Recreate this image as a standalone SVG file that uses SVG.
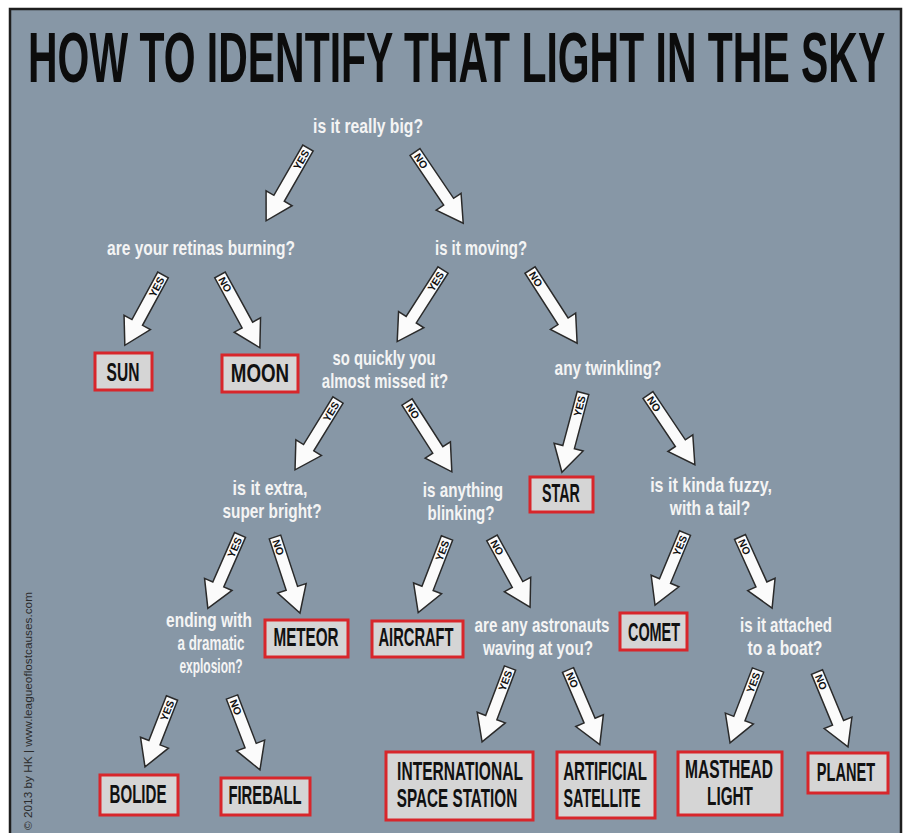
<svg xmlns="http://www.w3.org/2000/svg" width="908" height="833" viewBox="0 0 908 833">
<style>
.q{font-family:"Liberation Sans",Arial,sans-serif;font-weight:bold;font-size:20px;fill:#f4f4f4;text-anchor:middle}
.bx{fill:#d5d5d5;stroke:#d8262b;stroke-width:3}
.bt{font-family:"Liberation Sans",Arial,sans-serif;font-weight:bold;font-size:25px;fill:#111;text-anchor:middle}
.ar{fill:#fbfbfb;stroke:#2a2a2a;stroke-width:1.5;stroke-linejoin:miter}
.yn{font-family:"Liberation Sans",Arial,sans-serif;font-weight:bold;font-size:10.5px;fill:#111}
</style>
<rect x="0" y="0" width="908" height="833" fill="#ffffff"/>
<rect x="10" y="9" width="891" height="840" fill="#8797a6" stroke="#1e1e1e" stroke-width="2.5"/>
<text transform="translate(28,82) scale(0.58,1)" x="0" y="0" font-family="'Liberation Sans',Arial,sans-serif" font-weight="bold" font-size="70" fill="#0c0c0c" textLength="1478" lengthAdjust="spacingAndGlyphs">HOW TO IDENTIFY THAT LIGHT IN THE SKY</text>
<text transform="translate(28,830) rotate(-90)" x="0" y="4" font-family="'Liberation Sans',Arial,sans-serif" font-size="11" fill="#2b2b2b" textLength="238" lengthAdjust="spacingAndGlyphs">© 2013 by HK | www.leagueoflostcauses.com</text>

<g id="connectors">
<g transform="translate(308,148) rotate(119.9)"><path class="ar" d="M0,-6 L58,-6 L58,-15 L84,0 L58,15 L58,6 L0,6 Z"/><text class="yn" transform="rotate(180)" x="-3" y="3.8" text-anchor="end">YES</text></g>
<g transform="translate(415,152) rotate(55.9)"><path class="ar" d="M0,-6 L60,-6 L60,-15 L86,0 L60,15 L60,6 L0,6 Z"/><text class="yn" x="3" y="3.8">NO</text></g>
<g transform="translate(163,275) rotate(118.5)"><path class="ar" d="M0,-6 L54,-6 L54,-15 L80,0 L54,15 L54,6 L0,6 Z"/><text class="yn" transform="rotate(180)" x="-3" y="3.8" text-anchor="end">YES</text></g>
<g transform="translate(220,275) rotate(61.3)"><path class="ar" d="M0,-6 L57,-6 L57,-15 L83,0 L57,15 L57,6 L0,6 Z"/><text class="yn" x="3" y="3.8">NO</text></g>
<g transform="translate(443,270) rotate(122.6)"><path class="ar" d="M0,-6 L59,-6 L59,-15 L85,0 L59,15 L59,6 L0,6 Z"/><text class="yn" transform="rotate(180)" x="-3" y="3.8" text-anchor="end">YES</text></g>
<g transform="translate(530,270) rotate(57.2)"><path class="ar" d="M0,-6 L61,-6 L61,-15 L87,0 L61,15 L61,6 L0,6 Z"/><text class="yn" x="3" y="3.8">NO</text></g>
<g transform="translate(338,400) rotate(121.6)"><path class="ar" d="M0,-6 L56,-6 L56,-15 L82,0 L56,15 L56,6 L0,6 Z"/><text class="yn" transform="rotate(180)" x="-3" y="3.8" text-anchor="end">YES</text></g>
<g transform="translate(407,402) rotate(57.3)"><path class="ar" d="M0,-6 L57,-6 L57,-15 L83,0 L57,15 L57,6 L0,6 Z"/><text class="yn" x="3" y="3.8">NO</text></g>
<g transform="translate(583,393) rotate(104.9)"><path class="ar" d="M0,-6 L56,-6 L56,-15 L82,0 L56,15 L56,6 L0,6 Z"/><text class="yn" transform="rotate(180)" x="-3" y="3.8" text-anchor="end">YES</text></g>
<g transform="translate(648,395) rotate(56.1)"><path class="ar" d="M0,-6 L58,-6 L58,-15 L84,0 L58,15 L58,6 L0,6 Z"/><text class="yn" x="3" y="3.8">NO</text></g>
<g transform="translate(240,535) rotate(113.7)"><path class="ar" d="M0,-6 L54,-6 L54,-15 L80,0 L54,15 L54,6 L0,6 Z"/><text class="yn" transform="rotate(180)" x="-3" y="3.8" text-anchor="end">YES</text></g>
<g transform="translate(275,537) rotate(71.8)"><path class="ar" d="M0,-6 L54,-6 L54,-15 L80,0 L54,15 L54,6 L0,6 Z"/><text class="yn" x="3" y="3.8">NO</text></g>
<g transform="translate(447,538) rotate(111.1)"><path class="ar" d="M0,-6 L54,-6 L54,-15 L80,0 L54,15 L54,6 L0,6 Z"/><text class="yn" transform="rotate(180)" x="-3" y="3.8" text-anchor="end">YES</text></g>
<g transform="translate(492,538) rotate(61.2)"><path class="ar" d="M0,-6 L53,-6 L53,-15 L79,0 L53,15 L53,6 L0,6 Z"/><text class="yn" x="3" y="3.8">NO</text></g>
<g transform="translate(685,533) rotate(112.6)"><path class="ar" d="M0,-6 L52,-6 L52,-15 L78,0 L52,15 L52,6 L0,6 Z"/><text class="yn" transform="rotate(180)" x="-3" y="3.8" text-anchor="end">YES</text></g>
<g transform="translate(740,537) rotate(65.7)"><path class="ar" d="M0,-6 L52,-6 L52,-15 L78,0 L52,15 L52,6 L0,6 Z"/><text class="yn" x="3" y="3.8">NO</text></g>
<g transform="translate(172,698) rotate(111.4)"><path class="ar" d="M0,-6 L48,-6 L48,-15 L74,0 L48,15 L48,6 L0,6 Z"/><text class="yn" transform="rotate(180)" x="-3" y="3.8" text-anchor="end">YES</text></g>
<g transform="translate(232,697) rotate(69.0)"><path class="ar" d="M0,-6 L52,-6 L52,-15 L78,0 L52,15 L52,6 L0,6 Z"/><text class="yn" x="3" y="3.8">NO</text></g>
<g transform="translate(510,668) rotate(110.7)"><path class="ar" d="M0,-6 L53,-6 L53,-15 L79,0 L53,15 L53,6 L0,6 Z"/><text class="yn" transform="rotate(180)" x="-3" y="3.8" text-anchor="end">YES</text></g>
<g transform="translate(568,670) rotate(66.9)"><path class="ar" d="M0,-6 L55,-6 L55,-15 L81,0 L55,15 L55,6 L0,6 Z"/><text class="yn" x="3" y="3.8">NO</text></g>
<g transform="translate(758,670) rotate(111.0)"><path class="ar" d="M0,-6 L52,-6 L52,-15 L78,0 L52,15 L52,6 L0,6 Z"/><text class="yn" transform="rotate(180)" x="-3" y="3.8" text-anchor="end">YES</text></g>
<g transform="translate(817,672) rotate(67.5)"><path class="ar" d="M0,-6 L55,-6 L55,-15 L81,0 L55,15 L55,6 L0,6 Z"/><text class="yn" x="3" y="3.8">NO</text></g>
</g>

<g id="q-big"><text class="q" transform="translate(368,133) scale(0.78,1)" textLength="141" lengthAdjust="spacingAndGlyphs">is it really big?</text></g>
<g id="q-retinas"><text class="q" transform="translate(201,255) scale(0.78,1)" textLength="241" lengthAdjust="spacingAndGlyphs">are your retinas burning?</text></g>
<g id="q-moving"><text class="q" transform="translate(481,255) scale(0.78,1)" textLength="118" lengthAdjust="spacingAndGlyphs">is it moving?</text></g>
<g id="q-quickly"><text class="q" transform="translate(384,365) scale(0.78,1)" textLength="132" lengthAdjust="spacingAndGlyphs">so quickly you</text><text class="q" transform="translate(385,388) scale(0.78,1)" textLength="162" lengthAdjust="spacingAndGlyphs">almost missed it?</text></g>
<g id="q-twinkling"><text class="q" transform="translate(608,375) scale(0.78,1)" textLength="137" lengthAdjust="spacingAndGlyphs">any twinkling?</text></g>
<g id="q-bright"><text class="q" transform="translate(270,495) scale(0.78,1)" textLength="96" lengthAdjust="spacingAndGlyphs">is it extra,</text><text class="q" transform="translate(272,518) scale(0.78,1)" textLength="127" lengthAdjust="spacingAndGlyphs">super bright?</text></g>
<g id="q-blinking"><text class="q" transform="translate(463,497) scale(0.78,1)" textLength="103" lengthAdjust="spacingAndGlyphs">is anything</text><text class="q" transform="translate(461,520) scale(0.78,1)" textLength="86" lengthAdjust="spacingAndGlyphs">blinking?</text></g>
<g id="q-fuzzy"><text class="q" transform="translate(711,492) scale(0.78,1)" textLength="156" lengthAdjust="spacingAndGlyphs">is it kinda fuzzy,</text><text class="q" transform="translate(710,515) scale(0.78,1)" textLength="103" lengthAdjust="spacingAndGlyphs">with a tail?</text></g>
<g id="q-explosion"><text class="q" transform="translate(209,627) scale(0.78,1)" textLength="110" lengthAdjust="spacingAndGlyphs">ending with</text><text class="q" transform="translate(211,650) scale(0.78,1)" textLength="86" lengthAdjust="spacingAndGlyphs">a dramatic</text><text class="q" transform="translate(211,673) scale(0.78,1)" textLength="81" lengthAdjust="spacingAndGlyphs">explosion?</text></g>
<g id="q-astronauts"><text class="q" transform="translate(542,632) scale(0.78,1)" textLength="173" lengthAdjust="spacingAndGlyphs">are any astronauts</text><text class="q" transform="translate(538,655) scale(0.78,1)" textLength="141" lengthAdjust="spacingAndGlyphs">waving at you?</text></g>
<g id="q-boat"><text class="q" transform="translate(786,632) scale(0.78,1)" textLength="118" lengthAdjust="spacingAndGlyphs">is it attached</text><text class="q" transform="translate(785,655) scale(0.78,1)" textLength="96" lengthAdjust="spacingAndGlyphs">to a boat?</text></g>

<g id="sun"><rect class="bx" x="95" y="353" width="57" height="37"/><text class="bt" transform="translate(123,381) scale(0.62,1)" textLength="53" lengthAdjust="spacingAndGlyphs">SUN</text></g>
<g id="moon"><rect class="bx" x="222" y="355" width="76" height="37"/><text class="bt" transform="translate(260,382) scale(0.62,1)" textLength="94" lengthAdjust="spacingAndGlyphs">MOON</text></g>
<g id="star"><rect class="bx" x="530" y="477" width="63" height="35"/><text class="bt" transform="translate(561,502) scale(0.62,1)" textLength="61" lengthAdjust="spacingAndGlyphs">STAR</text></g>
<g id="meteor"><rect class="bx" x="265" y="620" width="83" height="37"/><text class="bt" transform="translate(306,646) scale(0.62,1)" textLength="105" lengthAdjust="spacingAndGlyphs">METEOR</text></g>
<g id="aircraft"><rect class="bx" x="372" y="621" width="91" height="36"/><text class="bt" transform="translate(416,646) scale(0.62,1)" textLength="121" lengthAdjust="spacingAndGlyphs">AIRCRAFT</text></g>
<g id="comet"><rect class="bx" x="620" y="613" width="67" height="37"/><text class="bt" transform="translate(654,641) scale(0.62,1)" textLength="84" lengthAdjust="spacingAndGlyphs">COMET</text></g>
<g id="bolide"><rect class="bx" x="100" y="775" width="78" height="40"/><text class="bt" transform="translate(138,803) scale(0.62,1)" textLength="92" lengthAdjust="spacingAndGlyphs">BOLIDE</text></g>
<g id="fireball"><rect class="bx" x="221" y="778" width="89" height="37"/><text class="bt" transform="translate(265,804) scale(0.62,1)" textLength="118" lengthAdjust="spacingAndGlyphs">FIREBALL</text></g>
<g id="iss"><rect class="bx" x="386" y="752" width="147" height="68"/><text class="bt" transform="translate(460,780) scale(0.62,1)" textLength="203" lengthAdjust="spacingAndGlyphs">INTERNATIONAL</text><text class="bt" transform="translate(457,807) scale(0.62,1)" textLength="194" lengthAdjust="spacingAndGlyphs">SPACE STATION</text></g>
<g id="satellite"><rect class="bx" x="557" y="752" width="98" height="66"/><text class="bt" transform="translate(605,780) scale(0.62,1)" textLength="135" lengthAdjust="spacingAndGlyphs">ARTIFICIAL</text><text class="bt" transform="translate(602,807) scale(0.62,1)" textLength="124" lengthAdjust="spacingAndGlyphs">SATELLITE</text></g>
<g id="masthead"><rect class="bx" x="678" y="752" width="104" height="63"/><text class="bt" transform="translate(729,778) scale(0.62,1)" textLength="142" lengthAdjust="spacingAndGlyphs">MASTHEAD</text><text class="bt" transform="translate(730,805) scale(0.62,1)" textLength="74" lengthAdjust="spacingAndGlyphs">LIGHT</text></g>
<g id="planet"><rect class="bx" x="808" y="753" width="80" height="40"/><text class="bt" transform="translate(846,781) scale(0.62,1)" textLength="94" lengthAdjust="spacingAndGlyphs">PLANET</text></g>
</svg>
